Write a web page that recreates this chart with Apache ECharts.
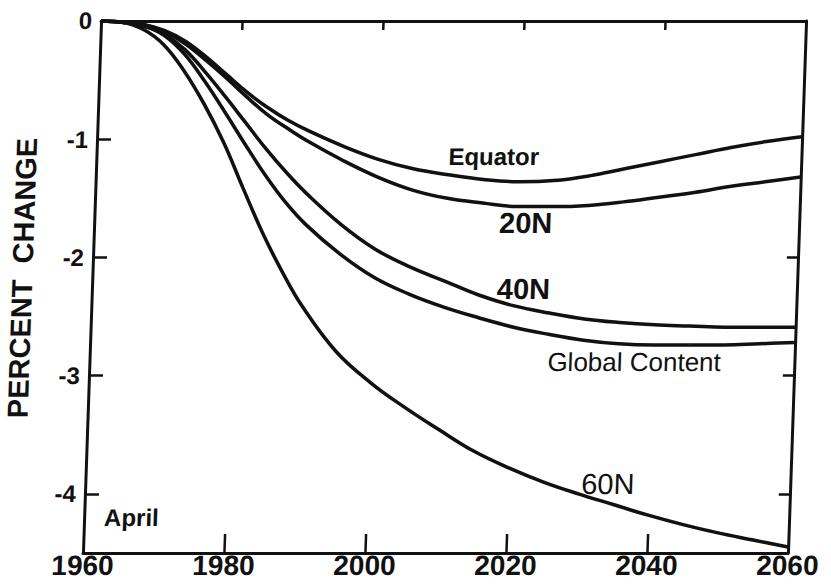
<!DOCTYPE html>
<html>
<head>
<meta charset="utf-8">
<script src="https://cdn.jsdelivr.net/npm/echarts@6/dist/echarts.min.js"></script>
<style>
  html, body { margin: 0; padding: 0; background: #ffffff; }
  #chart { width: 831px; height: 587px; transform: skewX(-1.95deg); transform-origin: 50% 287px; }
</style>
</head>
<body>
<div id="chart"></div>
<script>
// ---- data ----
const years = [1960, 1963, 1966, 1969, 1972, 1975, 1978, 1981, 1984, 1987, 1990, 1995, 2000, 2005, 2010, 2015, 2020, 2025, 2030, 2035, 2040, 2045, 2050, 2055, 2060];
const equator = [0, -0.01, -0.03, -0.08, -0.17, -0.30, -0.45, -0.60, -0.73, -0.84, -0.93, -1.06, -1.17, -1.25, -1.30, -1.34, -1.36, -1.35, -1.31, -1.25, -1.19, -1.13, -1.07, -1.02, -0.98];
const n20 = [0, -0.01, -0.03, -0.09, -0.19, -0.33, -0.48, -0.64, -0.79, -0.91, -1.02, -1.18, -1.32, -1.43, -1.50, -1.54, -1.57, -1.57, -1.56, -1.53, -1.49, -1.45, -1.40, -1.36, -1.32];
const n40 = [0, -0.01, -0.04, -0.11, -0.24, -0.43, -0.64, -0.86, -1.08, -1.28, -1.46, -1.72, -1.93, -2.08, -2.20, -2.32, -2.41, -2.47, -2.52, -2.55, -2.57, -2.58, -2.59, -2.59, -2.59];
const globalContent = [0, -0.01, -0.04, -0.12, -0.28, -0.51, -0.77, -1.04, -1.30, -1.53, -1.72, -1.97, -2.17, -2.31, -2.42, -2.51, -2.59, -2.65, -2.70, -2.73, -2.74, -2.74, -2.74, -2.73, -2.72];
const n60 = [0, -0.01, -0.07, -0.20, -0.42, -0.70, -1.03, -1.42, -1.80, -2.13, -2.42, -2.80, -3.06, -3.27, -3.46, -3.64, -3.78, -3.90, -4.00, -4.09, -4.18, -4.26, -4.33, -4.39, -4.45];

const xTickLabels = [1960, 1980, 2000, 2020, 2040, 2060];
const xInnerTicks = [1980, 2000, 2020, 2040];
const yTickLabels = [0, -1, -2, -3, -4];
const yLeftTicks = [-1, -2, -3, -4];
const yRightTicks = [-2, -3, -4];

const seriesNames = ['Equator', '20N', '40N', 'Global Content', '60N'];
const seriesValues = [equator, n20, n40, globalContent, n60];

// ---- chart ----
const INK = '#111111';
const chart = echarts.init(document.getElementById('chart'), null, { renderer: 'svg' });

function pairs(vals) { return years.map((y, i) => [y, vals[i]]); }

const option = {
  backgroundColor: '#ffffff',
  animation: false,
  grid: { left: 92, right: 26, top: 21, bottom: 34, containLabel: false },
  xAxis: [
    {
      type: 'value', position: 'bottom', min: 1960, max: 2060,
      axisLine: { show: true, onZero: false, lineStyle: { color: INK, width: 3 } },
      axisTick: { show: true, inside: true, length: 19, customValues: xInnerTicks, lineStyle: { color: INK, width: 2.5 } },
      axisLabel: { show: true, customValues: xTickLabels, margin: -2, color: INK, fontSize: 28, fontWeight: 'bold', fontFamily: 'Liberation Sans', formatter: v => String(v) },
      splitLine: { show: false }
    },
    {
      type: 'value', position: 'top', min: 1960, max: 2060,
      axisLine: { show: true, onZero: false, lineStyle: { color: INK, width: 3 } },
      axisTick: { show: true, inside: true, length: 9, customValues: xInnerTicks, lineStyle: { color: INK, width: 2.5 } },
      axisLabel: { show: false },
      splitLine: { show: false }
    }
  ],
  yAxis: [
    {
      type: 'value', position: 'left', min: -4.5, max: 0,
      axisLine: { show: true, onZero: false, lineStyle: { color: INK, width: 3 } },
      axisTick: { show: true, inside: true, length: 14, customValues: yLeftTicks, lineStyle: { color: INK, width: 2.5 } },
      axisLabel: { show: true, customValues: yTickLabels, margin: 9, color: INK, fontSize: 24, fontWeight: 'bold', fontFamily: 'Liberation Sans', formatter: v => String(v) },
      splitLine: { show: false }
    },
    {
      type: 'value', position: 'right', min: -4.5, max: 0,
      axisLine: { show: true, onZero: false, lineStyle: { color: INK, width: 3 } },
      axisTick: { show: true, inside: true, length: 11, customValues: yRightTicks, lineStyle: { color: INK, width: 2.5 } },
      axisLabel: { show: false },
      splitLine: { show: false }
    }
  ],
  series: seriesNames.map((name, i) => ({
    name: name,
    type: 'line',
    xAxisIndex: 0,
    yAxisIndex: 0,
    data: pairs(seriesValues[i]),
    smooth: 0.4,
    showSymbol: false,
    symbol: 'none',
    lineStyle: { color: INK, width: 3.5 },
    z: 3
  })),
  graphic: [
    { type: 'text', x: 22, y: 278, rotation: Math.PI / 2, style: { text: 'PERCENT  CHANGE', fill: INK, font: 'bold 29px "Liberation Sans"', textAlign: 'center', textVerticalAlign: 'middle' } },
    { type: 'text', x: 444, y: 157, style: { text: 'Equator', fill: INK, font: 'bold 24px "Liberation Sans"', textAlign: 'left', textVerticalAlign: 'middle' } },
    { type: 'text', x: 497, y: 223, style: { text: '20N', fill: INK, font: 'bold 29px "Liberation Sans"', textAlign: 'left', textVerticalAlign: 'middle' } },
    { type: 'text', x: 497, y: 289, style: { text: '40N', fill: INK, font: 'bold 29px "Liberation Sans"', textAlign: 'left', textVerticalAlign: 'middle' } },
    { type: 'text', x: 550, y: 362, style: { text: 'Global Content', fill: INK, font: '26px "Liberation Sans"', textAlign: 'left', textVerticalAlign: 'middle' } },
    { type: 'text', x: 588, y: 484, style: { text: '60N', fill: INK, font: '29px "Liberation Sans"', textAlign: 'left', textVerticalAlign: 'middle' } },
    { type: 'text', x: 112, y: 518, style: { text: 'April', fill: INK, font: 'bold 24px "Liberation Sans"', textAlign: 'left', textVerticalAlign: 'middle' } }
  ]
};
chart.setOption(option);
</script>
</body>
</html>
